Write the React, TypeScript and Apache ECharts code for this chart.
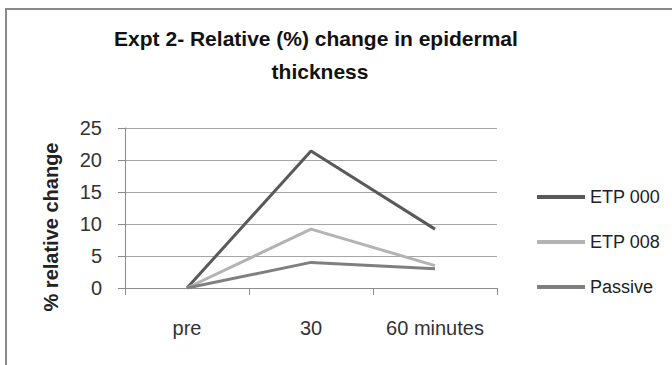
import React, { useEffect, useRef } from "react";
import * as echarts from "echarts";

const categories = ["pre", "30", "60 minutes"];
const etp000 = [0, 21.4, 9.2];
const etp008 = [0, 9.2, 3.5];
const passive = [0, 4.0, 3.0];
const titleLines = ["Expt 2- Relative (%) change in epidermal", "thickness"];
const yAxisTitle = "% relative change";

export default function App() {
  const ref = useRef<HTMLDivElement>(null);
  useEffect(() => {
    const chart = echarts.init(ref.current!, null, { renderer: "svg" });
    const font = "'Liberation Sans', Arial, sans-serif";
    const mk = (name: string, data: number[], color: string) => ({
      name,
      type: "line",
      data,
      symbol: "none",
      lineStyle: { color, width: 3 },
      itemStyle: { color },
    });
    chart.setOption({
      animation: false,
      backgroundColor: "#ffffff",
      textStyle: { fontFamily: font },
      grid: { left: 125, right: 175, top: 128, bottom: 77 },
      xAxis: {
        type: "category",
        data: categories,
        boundaryGap: true,
        axisLine: { show: true, lineStyle: { color: "#8c8c8c", width: 1 } },
        axisTick: { show: true, length: 7, lineStyle: { color: "#8c8c8c" } },
        axisLabel: {
          color: "#333",
          fontSize: 20,
          margin: 30,
          interval: 0,
          hideOverlap: false,
          fontFamily: font,
        },
        splitLine: { show: false },
      },
      yAxis: {
        type: "value",
        min: 0,
        max: 25,
        interval: 5,
        axisLine: { show: true, lineStyle: { color: "#8c8c8c", width: 1 } },
        axisTick: { show: true, length: 7, lineStyle: { color: "#8c8c8c" } },
        axisLabel: { color: "#333", fontSize: 20, margin: 23, fontFamily: font },
        splitLine: { show: true, lineStyle: { color: "#a6a6a6", width: 1 } },
      },
      legend: {
        orient: "vertical",
        left: 532,
        top: 183,
        itemWidth: 48,
        itemHeight: 4,
        itemGap: 27,
        icon: "rect",
        textStyle: { fontSize: 18, color: "#222", lineHeight: 16, fontFamily: font },
        data: ["ETP 000", "ETP 008", "Passive"],
      },
      graphic: [
        {
          type: "rect",
          shape: { x: 6, y: 9, width: 720, height: 420 },
          style: { fill: "none", stroke: "#8a8a8a", lineWidth: 2 },
          silent: true,
        },
        {
          type: "text",
          x: 316,
          y: 49,
          style: {
            text: titleLines[0],
            font: `bold 21px ${font}`,
            fill: "#111",
            textAlign: "center",
            textVerticalAlign: "bottom",
          },
        },
        {
          type: "text",
          x: 320,
          y: 82,
          style: {
            text: titleLines[1],
            font: `bold 21px ${font}`,
            fill: "#111",
            textAlign: "center",
            textVerticalAlign: "bottom",
          },
        },
        {
          type: "text",
          x: 51,
          y: 227,
          rotation: Math.PI / 2,
          style: {
            text: yAxisTitle,
            font: `bold 20px ${font}`,
            fill: "#222",
            textAlign: "center",
            textVerticalAlign: "middle",
          },
        },
      ],
      series: [
        mk("ETP 000", etp000, "#595959"),
        mk("ETP 008", etp008, "#b3b3b3"),
        mk("Passive", passive, "#7f7f7f"),
      ],
    });
    return () => chart.dispose();
  }, []);
  return (
    <div
      ref={ref}
      style={{ position: "fixed", left: 0, top: 0, width: 672, height: 365 }}
    />
  );
}
